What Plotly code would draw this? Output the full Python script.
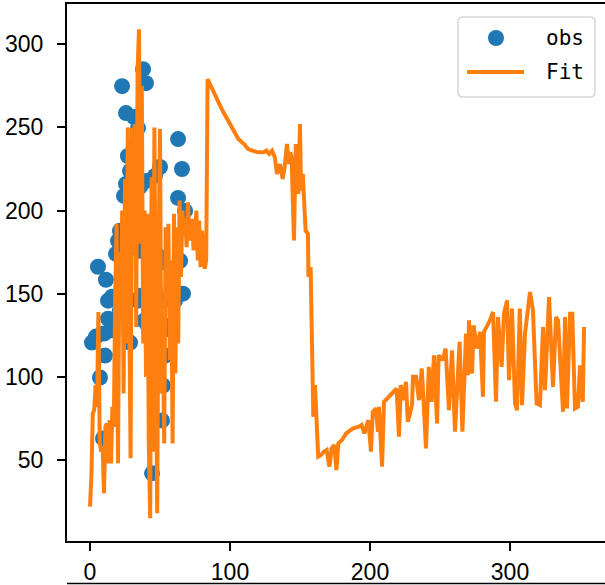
import plotly.graph_objects as go

# Observed points
obs_x = [1.4, 4.3, 5.7, 7.1, 9.3, 10.7, 11.4, 12.9, 12.9, 14.3, 15.7, 10.0, 18.6, 20.0, 21.4,
         22.9, 24.3, 24.3, 21.4, 25.7, 25.7, 27.1, 28.6, 28.6, 30.0, 31.4, 31.4, 34.3, 35.7,
         35.7, 37.9, 34.3, 36.4, 38.6, 40.0, 42.1, 42.9, 40.0, 44.3, 46.4, 41.4, 46.4, 50.0,
         50.0, 51.4, 53.6, 52.1, 48.6, 55.0, 52.1, 62.9, 65.7, 62.9, 67.9, 66.4, 60.7, 64.3, 58.6]
obs_y = [120.6, 124.2, 166.2, 99.6, 63.0, 112.8, 158.4, 145.8, 135.0, 127.8, 148.2, 126.0, 174.0,
         181.8, 187.8, 274.8, 208.8, 163.8, 139.8, 258.6, 216.0, 232.8, 223.8, 120.6, 205.8,
         190.8, 256.2, 249.6, 214.2, 175.8, 285.0, 145.8, 148.8, 133.8, 276.6, 192.6, 174.0,
         217.8, 42.0, 220.8, 130.8, 151.8, 226.2, 168.6, 73.8, 112.8, 94.8, 172.8, 130.8, 145.8,
         243.0, 225.0, 207.6, 199.8, 150.0, 145.8, 169.8, 127.8]

# Fitted curve
fit_x = list(range(0, 85)) + [
    88, 90, 93, 96, 100, 103, 106, 110, 113, 116, 120, 124, 126, 128, 130, 132, 133.6, 135.7,
    137.6, 139, 140.7, 142, 143, 144, 145.7, 147, 148.8, 150, 150.7, 152, 154, 155.7, 156,
    157.6, 158.8, 159.5, 160.7, 162, 163, 165, 167, 169, 171, 172.6, 174.5, 176, 177.4, 180,
    183, 186, 188, 192, 194, 196, 198.8, 200.7, 202, 204.3, 205.7, 206.4, 208.6, 210, 212,
    215.7, 219, 220.7, 222, 223.6, 225.7, 227, 230, 230.7, 232.9, 235, 237, 240, 242, 244,
    245.7, 247.9, 249, 252, 254, 256.4, 258.6, 260.7, 264, 266, 268.6, 270, 270.7, 272.9,
    274, 276.4, 278.6, 280.7, 281.4, 285.7, 287.9, 290, 291.4, 294, 295.7, 297.9, 299.3,
    301.4, 303.6, 305, 307, 308.6, 310.7, 314.3, 316.4, 319, 321.4, 323.6, 325, 327.9,
    330.7, 332.9, 334.3, 337.9, 339.3, 340.7, 342.9, 344.5, 346.4, 348.6, 350, 352, 352.9]
fit_y = [22, 40, 78, 80, 95, 82, 139, 60, 55, 58, 30, 70, 72, 48, 74, 48, 82, 70, 150, 192,
         48, 175, 140, 200, 90, 219, 120, 250, 145, 51, 250, 175, 252, 130, 285, 309, 180, 275,
         120, 200, 100, 198, 60, 15, 220, 55, 250, 70, 18, 175, 249, 90, 130, 60, 190, 150, 192,
         110, 170, 60, 198, 102, 190, 120, 206, 160, 200, 185, 195, 178, 205, 182, 190, 195,
         176, 185, 200, 170, 194, 166, 188, 175, 165, 170, 279] + [
    272, 268, 263, 258, 252, 248, 243, 240, 237, 236, 235, 235, 236, 234, 236, 232, 222, 228,
    219, 226, 240, 228, 235, 232, 182, 240, 210, 252, 212, 222, 188, 186, 160,
    166, 78, 76, 95, 75, 52, 53, 55, 56, 46, 57, 59, 44, 60, 62,
    66, 68, 69, 70, 71, 66, 74, 55, 79, 81, 67, 82, 46, 85, 87,
    90, 93, 64, 95, 86, 97, 73, 83, 100, 100, 86, 105, 57, 106, 85,
    113, 72, 113, 110, 117, 80, 116, 67, 121, 67, 126, 101, 134, 102,
    131, 117, 127, 88, 127, 134, 139, 85, 136, 106, 138, 146, 98,
    141, 84, 80, 141, 83, 126, 151, 140, 84, 83, 130, 92, 148,
    94, 136, 134, 79, 136, 81, 138, 138, 81, 82, 107, 85, 130]

x_ticks = [0, 100, 200, 300]
y_ticks = [50, 100, 150, 200, 250, 300]
legend_labels = ["obs", "Fit"]

BLUE, ORANGE = "#1f77b4", "#ff7f0e"
W, H = 605, 585
L, T, B = 67, 4, 44
PW, PH = W - L, H - T - B


def px(xp):
    return (xp - L) / PW


def py(yp):
    return (H - B - yp) / PH


fig = go.Figure()
fig.add_trace(go.Scatter(x=obs_x, y=obs_y, mode="markers", name=legend_labels[0],
                         marker=dict(color=BLUE, size=16, line=dict(width=0))))
fig.add_trace(go.Scatter(x=fit_x, y=fit_y, mode="lines", name=legend_labels[1],
                         line=dict(color=ORANGE, width=4)))

tick_font = dict(family="Liberation Sans, Arial, sans-serif", size=23, color="black")
fig.update_layout(
    width=W, height=H,
    margin=dict(l=L, r=0, t=T, b=B),
    paper_bgcolor="white", plot_bgcolor="white",
    showlegend=False,
    xaxis=dict(range=[-16.43, 367.86], tickvals=x_ticks, showgrid=False, zeroline=False,
               showline=True, linecolor="black", linewidth=2, mirror=True,
               ticks="outside", ticklen=8, tickwidth=2, tickcolor="black",
               tickfont=tick_font, ticklabelstandoff=1, automargin=False),
    yaxis=dict(range=[1.3, 324.2], tickvals=y_ticks, showgrid=False, zeroline=False,
               showline=True, linecolor="black", linewidth=2, mirror=False,
               ticks="outside", ticklen=8, tickwidth=2, tickcolor="black",
               tickfont=tick_font, ticklabelstandoff=9, automargin=False),
)

# Top spine of the subplot below (cropped in the original figure)
fig.add_shape(type="line", xref="paper", yref="paper", x0=0, x1=1.1,
              y0=py(583.5), y1=py(583.5), line=dict(color="black", width=1.5))

# Legend (matplotlib style): rounded frame, marker, line, labels
bx0, bx1, by0, by1, r = 458, 595, 17, 97, 5
path = (f"M {px(bx0 + r)},{py(by0)} L {px(bx1 - r)},{py(by0)} "
        f"Q {px(bx1)},{py(by0)} {px(bx1)},{py(by0 + r)} "
        f"L {px(bx1)},{py(by1 - r)} Q {px(bx1)},{py(by1)} {px(bx1 - r)},{py(by1)} "
        f"L {px(bx0 + r)},{py(by1)} Q {px(bx0)},{py(by1)} {px(bx0)},{py(by1 - r)} "
        f"L {px(bx0)},{py(by0 + r)} Q {px(bx0)},{py(by0)} {px(bx0 + r)},{py(by0)} Z")
fig.add_shape(type="path", xref="paper", yref="paper", path=path,
              fillcolor="rgba(255,255,255,0.8)", line=dict(color="#d6d6d6", width=1.5))
fig.add_shape(type="circle", xref="paper", yref="paper",
              x0=px(488), x1=px(504), y0=py(30), y1=py(46),
              fillcolor=BLUE, line=dict(width=0))
fig.add_shape(type="line", xref="paper", yref="paper",
              x0=px(467), x1=px(524), y0=py(72), y1=py(72),
              line=dict(color=ORANGE, width=4))
for lbl, yc in zip(legend_labels, [38, 72]):
    fig.add_annotation(text=lbl, xref="paper", yref="paper", x=px(544), y=py(yc),
                       xanchor="left", yanchor="middle", showarrow=False,
                       font=dict(family="DejaVu Sans Mono, monospace", size=21, color="black"))

fig.write_html("out.html", config={"displayModeBar": False},
               post_script="document.body.style.margin='0';document.body.style.overflow='hidden';")
